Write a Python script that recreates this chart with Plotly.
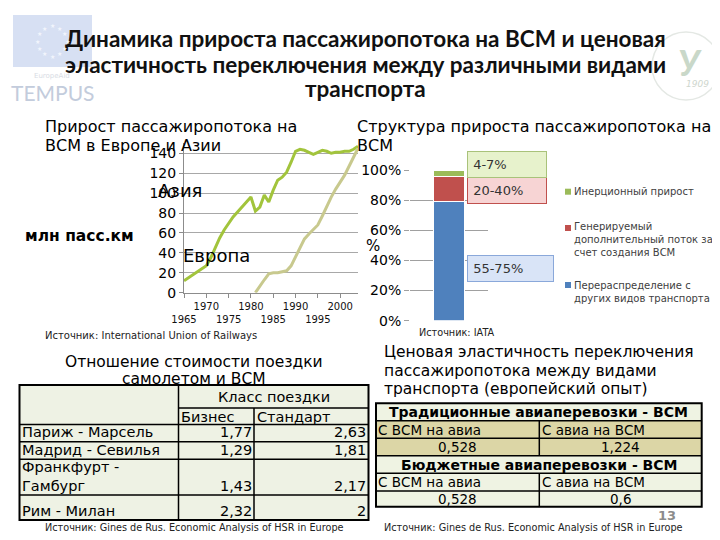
import math
import plotly.graph_objects as go

# ---------------- data ----------------
asia_years = list(range(1965, 2005))
asia_values = [12, 15, 18, 21, 24, 27, 35, 45, 55, 63, 70, 76, 81, 86, 91, 96, 82, 86, 98, 91,
               103, 113, 116, 121, 131, 142, 144, 143, 141, 139, 141, 143, 142, 140, 141, 141,
               142, 142, 144, 147]
europe_years = list(range(1981, 2005))
europe_values = [0, 7, 13, 19, 20, 20, 21, 22, 27, 36, 46, 54, 59, 63, 68, 77, 87, 96, 104, 111,
                 118, 127, 136, 145]
x_tick_years = [1965, 1970, 1975, 1980, 1985, 1990, 1995, 2000]
y_tick_values = [0, 20, 40, 60, 80, 100, 120, 140]

structure_names = ["Перераспределение с<br>других видов транспорта",
                   "Генерируемый<br>дополнительный поток за<br>счет создания ВСМ",
                   "Инерционный прирост"]
structure_shares = [0.79, 0.165, 0.045]
structure_ranges = ["55-75%", "20-40%", "4-7%"]
pct_ticks = [0, 0.2, 0.4, 0.6, 0.8, 1.0]

routes = ["Париж - Марсель", "Мадрид - Севилья", "Франкфурт -<br>Гамбург", "Рим - Милан"]
ratio_business = [1.77, 1.29, 1.43, 2.32]
ratio_standard = [2.63, 1.81, 2.17, 2]
class_header = "Класс поездки"
class_names = ["Бизнес", "Стандарт"]

elast_sections = ["Традиционные авиаперевозки - ВСМ", "Бюджетные авиаперевозки - ВСМ"]
elast_directions = ["С ВСМ на авиа", "С авиа на ВСМ"]
elast_values = [[0.528, 1.224], [0.528, 0.6]]

# ---------------- helpers ----------------
W, H = 720, 540
OFF = 8  # page body margin compensation
BASE = "DejaVu Sans"


def X(p):
    return (p - OFF) / W


def Y(p):
    return 1 - (p - OFF) / H


def fmt(v):
    return f"{v:g}".replace(".", ",")


annotations = []
shapes = []


def text(t, x, y, size, xanchor="left", yanchor="middle", color="black", family=BASE, align="left", **kw):
    annotations.append(dict(text=t, x=X(x), y=Y(y), xref="paper", yref="paper", showarrow=False,
                            xanchor=xanchor, yanchor=yanchor, align=align,
                            font=dict(size=size, color=color, family=family), **kw))


def rect(x0, y0, x1, y1, fill="rgba(0,0,0,0)", line="black", lw=1.5, layer="above"):
    shapes.append(dict(type="rect", xref="paper", yref="paper", x0=X(x0), x1=X(x1), y0=Y(y1), y1=Y(y0),
                       fillcolor=fill, line=dict(color=line, width=lw), layer=layer))


def hline(x0, x1, y, color="black", lw=1.5):
    shapes.append(dict(type="line", xref="paper", yref="paper", x0=X(x0), x1=X(x1), y0=Y(y), y1=Y(y),
                       line=dict(color=color, width=lw)))


def vline(x, y0, y1, color="black", lw=1.5):
    shapes.append(dict(type="line", xref="paper", yref="paper", x0=X(x), x1=X(x), y0=Y(y0), y1=Y(y1),
                       line=dict(color=color, width=lw)))


fig = go.Figure()

# ---------------- line chart ----------------
fig.add_trace(go.Scatter(x=asia_years, y=asia_values, mode="lines", xaxis="x", yaxis="y",
                         line=dict(color="#A2C43C", width=3), showlegend=False))
fig.add_trace(go.Scatter(x=europe_years, y=europe_values, mode="lines", xaxis="x", yaxis="y",
                         line=dict(color="#C8C98E", width=3), showlegend=False))

x_tick_text = [("" if i % 2 else " <br>") + str(yv) for i, yv in enumerate(x_tick_years)]

# ---------------- bar chart ----------------
bar_colors = ["#4F81BD", "#C0504D", "#9BBB59"]
for name, share, col in zip(structure_names, structure_shares, bar_colors):
    fig.add_trace(go.Bar(x=[0], y=[share], name=name, xaxis="x2", yaxis="y2", width=0.385,
                         marker=dict(color=col, line=dict(color="white", width=1)), showlegend=False))

# range boxes beside the bar
box_styles = [("#D9E4F7", "#8AA8DA", 255, 83), ("#F7D4D4", "#C0504D", 177, 76), ("#E7F2CC", "#A9C27A", 151, 76)]
for rng, (bg, bc, top, w) in zip(structure_ranges, box_styles):
    annotations.append(dict(text="&nbsp;" + rng, x=X(467), y=Y(top), xref="paper", yref="paper",
                            showarrow=False, xanchor="left", yanchor="top", align="left", valign="middle",
                            width=w, height=23, bgcolor=bg, bordercolor=bc, borderwidth=1, borderpad=1,
                            font=dict(size=13, color="#333333", family=BASE)))

# manual legend
leg_y = [(291.5, 285), (240, 228), (191.7, 191.7)]
for name, col, (cy, sy) in zip(structure_names, bar_colors, leg_y):
    rect(565, sy - 3, 571, sy + 3, fill=col, line=col, lw=0)
    text(name, 571.5, cy, 10, color="#404040")

# ---------------- titles & labels ----------------
title_lines = ["Динамика прироста пассажиропотока на ВСМ и ценовая",
               "эластичность переключения между различными видами",
               "транспорта"]
for t, yy in zip(title_lines, [39, 64, 88]):
    text("<b>" + t + "</b>", 365, yy, 22.5, xanchor="center", family="Lato", color="#111111")

text("Прирост пассажиропотока на", 43, 127, 16)
text("ВСМ в Европе и Азии", 43, 145, 16)
text("<b>млн пасс.км</b>", 23, 236, 15.5)
text("Азия", 156, 190, 18)
text("Европа", 181, 255, 18)
text("Источник: International Union of Railways", 43, 335, 10, color="#222222")

text("Структура прироста пассажиропотока на", 355, 127, 16)
text("ВСМ", 355, 145, 16)
text("%", 364, 246, 15)
text("Источник: IATA", 417, 332, 9.7, color="#222222")

# ---------------- left table ----------------
text("Отношение стоимости поездки", 194, 362, 15.5, xanchor="center")
text("самолетом и ВСМ", 194, 378.5, 15.5, xanchor="center")

cx = [19.5, 178.5, 254, 368.5]
ry = [385, 408, 424.5, 441.7, 459.3, 495, 520]
rect(cx[0], ry[0], cx[3], ry[-1], fill="#EEF2E4", lw=0, layer="below")
TF = 14.5
text(class_header, (cx[1] + cx[3]) / 2, 396.7, TF, xanchor="center")
text(class_names[0], cx[1] + 0.5, 417, TF)
text(class_names[1], cx[2] + 0.5, 417, TF)
for i, (r, b, s) in enumerate(zip(routes, ratio_business, ratio_standard)):
    bottom = ry[i + 3]
    nl = r.count("<br>") + 1
    text(r, cx[0] + 0.5, bottom - 9.5 - (nl - 1) * 8.6, TF)
    text(fmt(b), cx[2] - 0.5, bottom - 9.5, TF, xanchor="right")
    text(fmt(s), cx[3] - 0.5, bottom - 9.5, TF, xanchor="right")
hline(cx[1], cx[3], ry[1])
for yy in ry[2:-1]:
    hline(cx[0], cx[3], yy)
vline(cx[1], ry[0], ry[-1])
vline(cx[2], ry[1], ry[-1])
rect(cx[0], ry[0], cx[3], ry[-1], lw=2)
text("Источник: Gines de Rus. Economic Analysis of HSR in Europe", 43, 527, 9.7, color="#222222")

# ---------------- right table ----------------
for t, yy in zip(["Ценовая эластичность переключения", "пассажиропотока между видами",
                  "транспорта (европейский опыт)"], [352, 370.5, 389]):
    text(t, 382, yy, 15.5)

ex = [376, 539.3, 701.7]
ey = [403.3, 420.7, 438.3, 455.7, 473.3, 491, 506.7]
rect(ex[0], ey[0], ex[2], ey[-1], fill="#EFF3E3", lw=0, layer="below")
rect(ex[0], ey[1], ex[2], ey[3], fill="#DCD6A6", lw=0, layer="below")
for k, (sec, vals) in enumerate(zip(elast_sections, elast_values)):
    base = 3 * k
    text("<b>" + sec + "</b>", (ex[0] + ex[2]) / 2, (ey[base] + ey[base + 1]) / 2, 14, xanchor="center")
    for j, (d, v) in enumerate(zip(elast_directions, vals)):
        text(d, ex[j] + 0.5, (ey[base + 1] + ey[base + 2]) / 2, 13.5)
        text(fmt(v), (ex[j] + ex[j + 1]) / 2, (ey[base + 2] + ey[base + 3]) / 2, 13.5, xanchor="center")
    vline(ex[1], ey[base + 1], ey[base + 3])
for yy in ey[1:-1]:
    hline(ex[0], ex[2], yy)
rect(ex[0], ey[0], ex[2], ey[-1], lw=2)
text("<b>13</b>", 667, 515, 13, xanchor="center", color="#8C8C8C")
text("Источник: Gines de Rus. Economic Analysis of HSR in Europe", 382, 527, 9.7, color="#222222")

# ---------------- logos (decorative) ----------------
rect(13, 15, 92, 67, fill="#D7E0F3", line="#D7E0F3", lw=0, layer="below")
for k in range(12):
    a = 2 * math.pi * k / 12
    text("★", 52 + 15 * math.cos(a), 41 + 15 * math.sin(a), 6, xanchor="center", color="#F2F5FC")
text("EuropeAid", 52, 76, 7, xanchor="center", color="#D8DCE4")
text("TEMPUS", 52, 92, 21, xanchor="center", color="#C3CCDC", family="Lato")
shapes.append(dict(type="circle", xref="paper", yref="paper", x0=X(652), x1=X(720), y0=Y(100), y1=Y(32),
                   line=dict(color="#E4E8E4", width=1.5), layer="below"))
text("<b><i>У</i></b>", 690, 62, 36, xanchor="center", color="#C9D8C9", family="Lato")
text("<i>1909</i>", 697, 84, 9, xanchor="center", color="#CED6CE")

# ---------------- layout ----------------
fig.update_layout(
    width=W, height=H, margin=dict(l=0, r=0, t=0, b=0, pad=0, autoexpand=False),
    paper_bgcolor="white", plot_bgcolor="rgba(0,0,0,0)",
    barmode="stack", showlegend=False,
    xaxis=dict(domain=[X(184), X(358)], range=[1965, 2004], tickvals=x_tick_years, ticktext=x_tick_text,
               tickangle=0, ticks="outside", ticklen=4, tickcolor="#8C8C8C", showgrid=False,
               showline=True, linecolor="#8C8C8C", linewidth=1, zeroline=False, automargin=False,
               tickfont=dict(size=10, family=BASE, color="#111111")),
    yaxis=dict(domain=[Y(292.7), Y(143.3)], range=[0, 150], tickvals=y_tick_values,
               ticks="outside", ticklen=4, tickcolor="#8C8C8C", showgrid=True, gridcolor="#A8A8A8",
               gridwidth=1, showline=True, linecolor="#8C8C8C", linewidth=1, zeroline=False, automargin=False,
               tickfont=dict(size=14, family=BASE, color="black")),
    xaxis2=dict(domain=[X(410), X(488)], range=[-0.5, 0.5], showticklabels=False, showgrid=False,
                zeroline=False, showline=False, anchor="y2", automargin=False),
    yaxis2=dict(domain=[Y(320.7), Y(170)], range=[0, 1], tickvals=pct_ticks,
                ticktext=[f"{int(round(v * 100))}%" for v in pct_ticks], ticks="outside", ticklen=5,
                tickcolor="#A0A0A0", showgrid=True, gridcolor="#A0A0A0", gridwidth=1, zeroline=False,
                showline=False, anchor="x2", automargin=False, tickfont=dict(size=14, family=BASE, color="black")),
    annotations=annotations, shapes=shapes,
)

fig.write_html("out.html")
